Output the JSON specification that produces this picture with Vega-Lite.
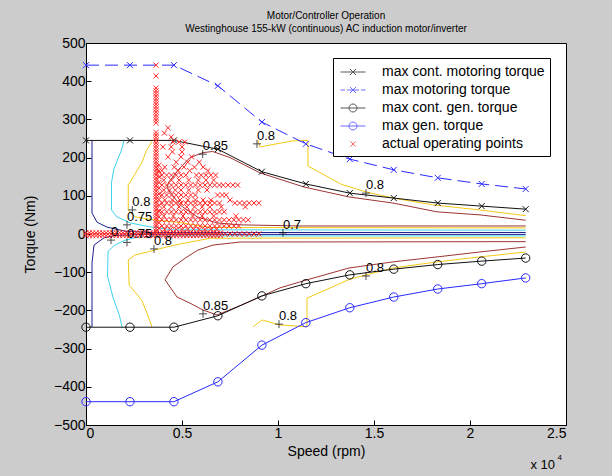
{
"$schema":"https://vega.github.io/schema/vega-lite/v6.json",
"autosize":{"type":"none"},
"padding":{"left":86,"top":43,"right":46,"bottom":51},
"width":480,"height":382,
"title":{"text":["Motor/Controller Operation","Westinghouse 155-kW (continuous) AC induction motor/inverter"],"fontSize":10,"fontWeight":"normal","font":"Liberation Sans","color":"black","lineHeight":13,"offset":2,"anchor":"middle"},
"datasets":{
"con":[
{"c":"n","g":"n1","x":312,"y":245},{"c":"n","g":"n1","x":312,"y":55},{"c":"n","g":"n1","x":573,"y":31},{"c":"n","g":"n1","x":1094,"y":18},{"c":"n","g":"n1","x":2083,"y":7},{"c":"n","g":"n1","x":3500,"y":4},{"c":"n","g":"n1","x":22900,"y":4},
{"c":"n","g":"n2","x":22900,"y":-1},{"c":"n","g":"n2","x":3000,"y":-1},{"c":"n","g":"n2","x":1500,"y":-4},{"c":"n","g":"n2","x":937,"y":-10},{"c":"n","g":"n2","x":417,"y":-29},{"c":"n","g":"n2","x":312,"y":-76},{"c":"n","g":"n2","x":312,"y":-244},
{"c":"c","g":"c1","x":1980,"y":245},{"c":"c","g":"c1","x":1850,"y":220},{"c":"c","g":"c1","x":1450,"y":170},{"c":"c","g":"c1","x":1330,"y":135},{"c":"c","g":"c1","x":1330,"y":63},{"c":"c","g":"c1","x":1600,"y":45},{"c":"c","g":"c1","x":2300,"y":29},{"c":"c","g":"c1","x":3300,"y":19},{"c":"c","g":"c1","x":4500,"y":11},{"c":"c","g":"c1","x":22900,"y":10},
{"c":"c","g":"c2","x":22900,"y":-5},{"c":"c","g":"c2","x":4000,"y":-5},{"c":"c","g":"c2","x":2600,"y":-9},{"c":"c","g":"c2","x":2000,"y":-17},{"c":"c","g":"c2","x":1500,"y":-29},{"c":"c","g":"c2","x":1150,"y":-45},{"c":"c","g":"c2","x":1120,"y":-110},{"c":"c","g":"c2","x":1400,"y":-165},{"c":"c","g":"c2","x":1750,"y":-215},{"c":"c","g":"c2","x":1880,"y":-244},
{"c":"y","g":"y1","x":3470,"y":245},{"c":"y","g":"y1","x":3160,"y":220},{"c":"y","g":"y1","x":2900,"y":186},{"c":"y","g":"y1","x":2200,"y":128},{"c":"y","g":"y1","x":2200,"y":63},{"c":"y","g":"y1","x":2550,"y":45},{"c":"y","g":"y1","x":3490,"y":37},{"c":"y","g":"y1","x":4900,"y":30},{"c":"y","g":"y1","x":6500,"y":17},{"c":"y","g":"y1","x":22900,"y":16},
{"c":"y","g":"y2","x":22900,"y":-10},{"c":"y","g":"y2","x":6500,"y":-11},{"c":"y","g":"y2","x":5000,"y":-25},{"c":"y","g":"y2","x":4200,"y":-34},{"c":"y","g":"y2","x":3200,"y":-47},{"c":"y","g":"y2","x":2550,"y":-55},{"c":"y","g":"y2","x":2200,"y":-68},{"c":"y","g":"y2","x":2250,"y":-134},{"c":"y","g":"y2","x":2900,"y":-173},{"c":"y","g":"y2","x":3180,"y":-207},{"c":"y","g":"y2","x":3440,"y":-244},
{"c":"y","g":"y3","x":8950,"y":245},{"c":"y","g":"y3","x":9060,"y":228},{"c":"y","g":"y3","x":10780,"y":244},{"c":"y","g":"y3","x":11560,"y":245},{"c":"y","g":"y3","x":11560,"y":178},{"c":"y","g":"y3","x":13300,"y":130},{"c":"y","g":"y3","x":14600,"y":110},{"c":"y","g":"y3","x":16000,"y":94},{"c":"y","g":"y3","x":18100,"y":76},{"c":"y","g":"y3","x":20500,"y":63},{"c":"y","g":"y3","x":22900,"y":48},
{"c":"y","g":"y4","x":8700,"y":-243},{"c":"y","g":"y4","x":9170,"y":-225},{"c":"y","g":"y4","x":10100,"y":-238},{"c":"y","g":"y4","x":11510,"y":-243},{"c":"y","g":"y4","x":11510,"y":-168},{"c":"y","g":"y4","x":13750,"y":-118},{"c":"y","g":"y4","x":15990,"y":-89},{"c":"y","g":"y4","x":18281,"y":-73},{"c":"y","g":"y4","x":20521,"y":-60},{"c":"y","g":"y4","x":22900,"y":-47},
{"c":"r","g":"r1","x":22900,"y":36},{"c":"r","g":"r1","x":20521,"y":50},{"c":"r","g":"r1","x":18281,"y":58},{"c":"r","g":"r1","x":15990,"y":81},{"c":"r","g":"r1","x":13698,"y":97},{"c":"r","g":"r1","x":11354,"y":123},{"c":"r","g":"r1","x":9062,"y":160},{"c":"r","g":"r1","x":7500,"y":200},{"c":"r","g":"r1","x":6600,"y":216},{"c":"r","g":"r1","x":6094,"y":213},{"c":"r","g":"r1","x":5417,"y":200},{"c":"r","g":"r1","x":4896,"y":173},{"c":"r","g":"r1","x":4300,"y":135},{"c":"r","g":"r1","x":4219,"y":120},{"c":"r","g":"r1","x":4896,"y":76},{"c":"r","g":"r1","x":5781,"y":45},{"c":"r","g":"r1","x":6823,"y":29},{"c":"r","g":"r1","x":8021,"y":24},{"c":"r","g":"r1","x":11146,"y":21},{"c":"r","g":"r1","x":22900,"y":21},
{"c":"r","g":"r2","x":22900,"y":-20},{"c":"r","g":"r2","x":8021,"y":-21},{"c":"r","g":"r2","x":6615,"y":-29},{"c":"r","g":"r2","x":5833,"y":-42},{"c":"r","g":"r2","x":5260,"y":-60},{"c":"r","g":"r2","x":4531,"y":-86},{"c":"r","g":"r2","x":4115,"y":-120},{"c":"r","g":"r2","x":4740,"y":-165},{"c":"r","g":"r2","x":5417,"y":-181},{"c":"r","g":"r2","x":6094,"y":-199},{"c":"r","g":"r2","x":6823,"y":-212},{"c":"r","g":"r2","x":7865,"y":-191},{"c":"r","g":"r2","x":9062,"y":-165},{"c":"r","g":"r2","x":10104,"y":-141},{"c":"r","g":"r2","x":11510,"y":-120},{"c":"r","g":"r2","x":13698,"y":-89},{"c":"r","g":"r2","x":15990,"y":-73},{"c":"r","g":"r2","x":18281,"y":-60},{"c":"r","g":"r2","x":20521,"y":-47},{"c":"r","g":"r2","x":22900,"y":-34}
],
"lab":[
{"t":"0.85","x":6078,"y":209},{"t":"0.8","x":8906,"y":236},{"t":"0.8","x":14583,"y":107},{"t":"0.7","x":10260,"y":3},{"t":"0.85","x":6094,"y":-209},{"t":"0.8","x":10052,"y":-236},{"t":"0.8","x":14583,"y":-110},{"t":"0.8","x":2413,"y":63},{"t":"0.75","x":2135,"y":24},{"t":"0","x":1302,"y":-16},{"t":"0.75","x":2135,"y":-22},{"t":"0.8","x":3541,"y":-39}
],
"ann":[{"t":"x 10","x":23150,"y":-605}],
"pts":[
{"s":"a","x":0,"y":245},{"s":"a","x":2290,"y":245},{"s":"a","x":4580,"y":245},{"s":"a","x":6870,"y":222},{"s":"a","x":9160,"y":163},{"s":"a","x":11450,"y":131},{"s":"a","x":13740,"y":107},{"s":"a","x":16030,"y":94},{"s":"a","x":18320,"y":81},{"s":"a","x":20610,"y":73},{"s":"a","x":22900,"y":65},
{"s":"b","x":0,"y":442},{"s":"b","x":2290,"y":442},{"s":"b","x":4580,"y":442},{"s":"b","x":6870,"y":388},{"s":"b","x":9160,"y":293},{"s":"b","x":11450,"y":236},{"s":"b","x":13740,"y":196},{"s":"b","x":16030,"y":168},{"s":"b","x":18320,"y":147},{"s":"b","x":20610,"y":131},{"s":"b","x":22900,"y":118},
{"s":"c","x":0,"y":-244},{"s":"c","x":2290,"y":-244},{"s":"c","x":4580,"y":-244},{"s":"c","x":6870,"y":-214},{"s":"c","x":9160,"y":-162},{"s":"c","x":11450,"y":-130},{"s":"c","x":13740,"y":-107},{"s":"c","x":16030,"y":-92},{"s":"c","x":18320,"y":-80},{"s":"c","x":20610,"y":-71},{"s":"c","x":22900,"y":-63},
{"s":"d","x":0,"y":-439},{"s":"d","x":2290,"y":-439},{"s":"d","x":4580,"y":-439},{"s":"d","x":6870,"y":-387},{"s":"d","x":9160,"y":-291},{"s":"d","x":11450,"y":-232},{"s":"d","x":13740,"y":-193},{"s":"d","x":16030,"y":-165},{"s":"d","x":18320,"y":-144},{"s":"d","x":20610,"y":-130},{"s":"d","x":22900,"y":-115},
{"s":"e","x":3650,"y":442},{"s":"e","x":3650,"y":414},{"s":"e","x":3650,"y":382},{"s":"e","x":3650,"y":375},{"s":"e","x":3650,"y":368},{"s":"e","x":3650,"y":361},{"s":"e","x":3650,"y":354},{"s":"e","x":3650,"y":347},{"s":"e","x":3650,"y":340},{"s":"e","x":3650,"y":333},{"s":"e","x":3650,"y":326},{"s":"e","x":3650,"y":319},{"s":"e","x":3650,"y":312},{"s":"e","x":3650,"y":305},{"s":"e","x":3650,"y":298},{"s":"e","x":3650,"y":291},
{"s":"e","x":3650,"y":266},{"s":"e","x":3650,"y":259},{"s":"e","x":3650,"y":252},{"s":"e","x":3650,"y":245},{"s":"e","x":3650,"y":238},{"s":"e","x":3650,"y":231},{"s":"e","x":3650,"y":224},{"s":"e","x":3650,"y":217},{"s":"e","x":3650,"y":210},{"s":"e","x":3650,"y":203},{"s":"e","x":3650,"y":196},{"s":"e","x":3650,"y":189},{"s":"e","x":3650,"y":182},{"s":"e","x":3650,"y":175},{"s":"e","x":3650,"y":168},{"s":"e","x":3650,"y":161},{"s":"e","x":3650,"y":154},{"s":"e","x":3650,"y":147},{"s":"e","x":3650,"y":140},{"s":"e","x":3650,"y":133},{"s":"e","x":3650,"y":126},{"s":"e","x":3650,"y":119},{"s":"e","x":3650,"y":112},{"s":"e","x":3650,"y":105},{"s":"e","x":3650,"y":98},{"s":"e","x":3650,"y":91},{"s":"e","x":3650,"y":84},{"s":"e","x":3650,"y":77},{"s":"e","x":3650,"y":70},{"s":"e","x":3650,"y":63},{"s":"e","x":3650,"y":56},{"s":"e","x":3650,"y":49},{"s":"e","x":3650,"y":42},{"s":"e","x":3650,"y":35},{"s":"e","x":3650,"y":28},{"s":"e","x":3650,"y":21},{"s":"e","x":3650,"y":14},{"s":"e","x":3650,"y":7},
{"s":"e","x":3800,"y":180},{"s":"e","x":3800,"y":165},{"s":"e","x":3800,"y":150},{"s":"e","x":3800,"y":135},{"s":"e","x":3800,"y":120},{"s":"e","x":3800,"y":105},{"s":"e","x":3800,"y":90},{"s":"e","x":3800,"y":75},{"s":"e","x":3800,"y":60},{"s":"e","x":3800,"y":45},{"s":"e","x":3800,"y":30},{"s":"e","x":3800,"y":15},
{"s":"e","x":4270,"y":278},{"s":"e","x":4080,"y":264},{"s":"e","x":4440,"y":254},{"s":"e","x":4540,"y":241},{"s":"e","x":4850,"y":241},{"s":"e","x":5150,"y":241},{"s":"e","x":4000,"y":228},{"s":"e","x":4440,"y":228},{"s":"e","x":5000,"y":228},{"s":"e","x":4500,"y":215},{"s":"e","x":5000,"y":215},{"s":"e","x":4270,"y":202},{"s":"e","x":4950,"y":202},{"s":"e","x":5500,"y":202},{"s":"e","x":4700,"y":188},{"s":"e","x":5300,"y":188},{"s":"e","x":5900,"y":188},
{"s":"e","x":4100,"y":175},{"s":"e","x":4600,"y":175},{"s":"e","x":5100,"y":175},{"s":"e","x":5650,"y":175},{"s":"e","x":6100,"y":175},{"s":"e","x":3950,"y":166},{"s":"e","x":4800,"y":166},{"s":"e","x":5400,"y":166},{"s":"e","x":6350,"y":166},
{"s":"e","x":3950,"y":154},{"s":"e","x":4200,"y":154},{"s":"e","x":4450,"y":154},{"s":"e","x":4700,"y":154},{"s":"e","x":4950,"y":154},{"s":"e","x":5200,"y":154},{"s":"e","x":5750,"y":154},{"s":"e","x":6000,"y":154},{"s":"e","x":6250,"y":154},{"s":"e","x":6500,"y":154},{"s":"e","x":6750,"y":154},
{"s":"e","x":4050,"y":141},{"s":"e","x":4450,"y":141},{"s":"e","x":4850,"y":141},{"s":"e","x":5350,"y":141},{"s":"e","x":5850,"y":141},{"s":"e","x":6250,"y":141},{"s":"e","x":6650,"y":141},
{"s":"e","x":3950,"y":128},{"s":"e","x":4200,"y":128},{"s":"e","x":4450,"y":128},{"s":"e","x":4700,"y":128},{"s":"e","x":4950,"y":128},{"s":"e","x":5200,"y":128},{"s":"e","x":5450,"y":128},{"s":"e","x":5700,"y":128},{"s":"e","x":5950,"y":128},{"s":"e","x":6200,"y":128},{"s":"e","x":6450,"y":128},{"s":"e","x":6700,"y":128},{"s":"e","x":6950,"y":128},{"s":"e","x":7150,"y":128},{"s":"e","x":7400,"y":128},{"s":"e","x":7650,"y":128},{"s":"e","x":7900,"y":128},
{"s":"e","x":4050,"y":115},{"s":"e","x":4350,"y":115},{"s":"e","x":4650,"y":115},{"s":"e","x":4950,"y":115},{"s":"e","x":5350,"y":115},{"s":"e","x":5850,"y":115},{"s":"e","x":6300,"y":115},
{"s":"e","x":3950,"y":102},{"s":"e","x":4200,"y":102},{"s":"e","x":4450,"y":102},{"s":"e","x":4700,"y":102},{"s":"e","x":4950,"y":102},{"s":"e","x":5200,"y":102},{"s":"e","x":5450,"y":102},{"s":"e","x":5700,"y":102},{"s":"e","x":6850,"y":102},{"s":"e","x":7100,"y":102},{"s":"e","x":7300,"y":102},
{"s":"e","x":4100,"y":89},{"s":"e","x":4500,"y":89},{"s":"e","x":4900,"y":89},{"s":"e","x":5300,"y":89},{"s":"e","x":5700,"y":89},{"s":"e","x":6100,"y":89},{"s":"e","x":6500,"y":89},{"s":"e","x":7500,"y":89},
{"s":"e","x":3950,"y":81},{"s":"e","x":4200,"y":81},{"s":"e","x":4450,"y":81},{"s":"e","x":4700,"y":81},{"s":"e","x":4950,"y":81},{"s":"e","x":5200,"y":81},{"s":"e","x":5450,"y":81},{"s":"e","x":5700,"y":81},{"s":"e","x":5950,"y":81},{"s":"e","x":6200,"y":81},{"s":"e","x":6450,"y":81},{"s":"e","x":6700,"y":81},{"s":"e","x":6950,"y":81},{"s":"e","x":7750,"y":81},{"s":"e","x":8000,"y":81},{"s":"e","x":8250,"y":81},{"s":"e","x":8500,"y":81},{"s":"e","x":8750,"y":81},{"s":"e","x":9000,"y":81},
{"s":"e","x":4050,"y":71},{"s":"e","x":4450,"y":71},{"s":"e","x":4850,"y":71},{"s":"e","x":5250,"y":71},{"s":"e","x":5650,"y":71},{"s":"e","x":6050,"y":71},{"s":"e","x":6450,"y":71},{"s":"e","x":7050,"y":71},{"s":"e","x":8300,"y":71},
{"s":"e","x":3950,"y":58},{"s":"e","x":4200,"y":58},{"s":"e","x":4450,"y":58},{"s":"e","x":4700,"y":58},{"s":"e","x":4950,"y":58},{"s":"e","x":5200,"y":58},{"s":"e","x":5450,"y":58},{"s":"e","x":5700,"y":58},{"s":"e","x":5950,"y":58},{"s":"e","x":6200,"y":58},{"s":"e","x":6450,"y":58},{"s":"e","x":6700,"y":58},{"s":"e","x":6950,"y":58},{"s":"e","x":7200,"y":58},
{"s":"e","x":4050,"y":47},{"s":"e","x":4550,"y":47},{"s":"e","x":5050,"y":47},{"s":"e","x":5550,"y":47},{"s":"e","x":6050,"y":47},{"s":"e","x":6650,"y":47},{"s":"e","x":7800,"y":47},
{"s":"e","x":3950,"y":37},{"s":"e","x":4200,"y":37},{"s":"e","x":4450,"y":37},{"s":"e","x":4700,"y":37},{"s":"e","x":4950,"y":37},{"s":"e","x":5200,"y":37},{"s":"e","x":5450,"y":37},{"s":"e","x":5700,"y":37},{"s":"e","x":5950,"y":37},{"s":"e","x":6200,"y":37},{"s":"e","x":6450,"y":37},{"s":"e","x":6700,"y":37},{"s":"e","x":6950,"y":37},{"s":"e","x":7200,"y":37},{"s":"e","x":7450,"y":37},{"s":"e","x":7700,"y":37},{"s":"e","x":7950,"y":37},{"s":"e","x":8200,"y":37},{"s":"e","x":8450,"y":37},
{"s":"e","x":3950,"y":21},{"s":"e","x":4200,"y":21},{"s":"e","x":4450,"y":21},{"s":"e","x":4700,"y":21},{"s":"e","x":4950,"y":21},{"s":"e","x":5200,"y":21},{"s":"e","x":5450,"y":21},{"s":"e","x":5700,"y":21},{"s":"e","x":5950,"y":21},{"s":"e","x":6200,"y":21},{"s":"e","x":6450,"y":21},{"s":"e","x":6700,"y":21},{"s":"e","x":6950,"y":21},{"s":"e","x":7200,"y":21},{"s":"e","x":7450,"y":21},{"s":"e","x":7700,"y":21},{"s":"e","x":7950,"y":21},
{"s":"e","x":4100,"y":12},{"s":"e","x":4400,"y":12},{"s":"e","x":4700,"y":12},{"s":"e","x":5000,"y":12},{"s":"e","x":5300,"y":12},{"s":"e","x":5600,"y":12},{"s":"e","x":5900,"y":12},{"s":"e","x":6200,"y":12},{"s":"e","x":6500,"y":12},{"s":"e","x":6800,"y":12},
{"s":"e","x":0,"y":3},{"s":"e","x":175,"y":3},{"s":"e","x":350,"y":3},{"s":"e","x":525,"y":3},{"s":"e","x":700,"y":3},{"s":"e","x":875,"y":3},{"s":"e","x":1050,"y":3},{"s":"e","x":1225,"y":3},{"s":"e","x":1400,"y":3},{"s":"e","x":1575,"y":3},{"s":"e","x":1750,"y":3},{"s":"e","x":1925,"y":3},{"s":"e","x":2100,"y":3},{"s":"e","x":2275,"y":3},{"s":"e","x":2450,"y":3},{"s":"e","x":2625,"y":3},{"s":"e","x":2800,"y":3},{"s":"e","x":2975,"y":3},{"s":"e","x":3150,"y":3},{"s":"e","x":3325,"y":3},{"s":"e","x":3500,"y":3},{"s":"e","x":3675,"y":3},{"s":"e","x":3850,"y":3},{"s":"e","x":4025,"y":3},{"s":"e","x":4200,"y":3},{"s":"e","x":4375,"y":3},{"s":"e","x":4550,"y":3},{"s":"e","x":4725,"y":3},{"s":"e","x":4900,"y":3},{"s":"e","x":5075,"y":3},{"s":"e","x":5250,"y":3},{"s":"e","x":5425,"y":3},{"s":"e","x":5600,"y":3},{"s":"e","x":5775,"y":3},{"s":"e","x":5950,"y":3},{"s":"e","x":6125,"y":3},{"s":"e","x":6300,"y":3},{"s":"e","x":6475,"y":3},{"s":"e","x":6650,"y":3},{"s":"e","x":6825,"y":3},{"s":"e","x":7000,"y":3},
{"s":"e","x":0,"y":-4},{"s":"e","x":175,"y":-4},{"s":"e","x":350,"y":-4},{"s":"e","x":525,"y":-4},{"s":"e","x":700,"y":-4},{"s":"e","x":875,"y":-4},{"s":"e","x":1050,"y":-4},{"s":"e","x":1225,"y":-4},{"s":"e","x":1400,"y":-4},{"s":"e","x":1575,"y":-4},{"s":"e","x":1750,"y":-4},{"s":"e","x":1925,"y":-4},{"s":"e","x":2100,"y":-4},{"s":"e","x":2275,"y":-4},{"s":"e","x":2450,"y":-4},{"s":"e","x":2625,"y":-4},{"s":"e","x":2800,"y":-4},{"s":"e","x":2975,"y":-4},{"s":"e","x":3150,"y":-4},{"s":"e","x":3325,"y":-4},{"s":"e","x":3500,"y":-4},{"s":"e","x":3675,"y":-4},{"s":"e","x":3850,"y":-4},{"s":"e","x":4025,"y":-4},{"s":"e","x":4200,"y":-4},{"s":"e","x":4375,"y":-4},{"s":"e","x":4550,"y":-4},{"s":"e","x":4725,"y":-4},{"s":"e","x":4900,"y":-4},{"s":"e","x":5075,"y":-4},{"s":"e","x":5250,"y":-4},{"s":"e","x":5425,"y":-4},{"s":"e","x":5600,"y":-4},{"s":"e","x":5775,"y":-4},{"s":"e","x":5950,"y":-4},{"s":"e","x":6125,"y":-4},{"s":"e","x":6300,"y":-4},{"s":"e","x":6475,"y":-4},{"s":"e","x":6650,"y":-4},{"s":"e","x":6825,"y":-4},{"s":"e","x":7000,"y":-4},
{"s":"e","x":7250,"y":0},{"s":"e","x":7500,"y":0},{"s":"e","x":7750,"y":0},{"s":"e","x":8000,"y":0},{"s":"e","x":8250,"y":0},{"s":"e","x":8500,"y":0},{"s":"e","x":8750,"y":0},{"s":"e","x":9000,"y":0}
]
},
"encoding":{
"x":{"field":"x","type":"quantitative","scale":{"domain":[0,25000],"nice":false,"zero":false},"axis":{"values":[0,5000,10000,15000,20000,25000],"labelExpr":"''+datum.value/10000","title":"Speed (rpm)","labelPadding":6,"titlePadding":4}},
"y":{"field":"y","type":"quantitative","scale":{"domain":[-500,500],"nice":false,"zero":false},"axis":{"values":[-500,-400,-300,-200,-100,0,100,200,300,400,500],"title":"Torque (Nm)","labelPadding":6,"titlePadding":16}}
},
"layer":[
{"data":{"name":"con"},"mark":{"type":"line","strokeWidth":1,"clip":true},
 "encoding":{"detail":{"field":"g"},"order":{"value":null},"stroke":{"field":"c","type":"nominal","scale":{"domain":["n","c","y","r"],"range":["#1c1c8e","#3cd2f0","#f5c814","#9c3434"]},"legend":null}}},
{"data":{"name":"pts"},"transform":[{"filter":"datum.s=='a'||datum.s=='c'"}],"mark":{"type":"line","strokeWidth":1,"color":"#111111"},"encoding":{"detail":{"field":"s"}}},
{"data":{"name":"pts"},"transform":[{"filter":"datum.s=='b'"}],"mark":{"type":"line","strokeWidth":1,"color":"#2a2aff","strokeDash":[13,6]}},
{"data":{"name":"pts"},"transform":[{"filter":"datum.s=='d'"}],"mark":{"type":"line","strokeWidth":1,"color":"#2a2aff"}},
{"data":{"name":"pts"},"transform":[{"filter":"datum.s=='a'"}],"mark":{"type":"point","shape":"M-1,-1L1,1M-1,1L1,-1","size":36,"filled":false,"strokeWidth":1,"color":"#111111","opacity":1}},
{"data":{"name":"pts"},"transform":[{"filter":"datum.s=='b'"}],"mark":{"type":"point","shape":"M-1,-1L1,1M-1,1L1,-1","size":36,"filled":false,"strokeWidth":1,"color":"#2a2aff","opacity":1}},
{"data":{"name":"pts"},"transform":[{"filter":"datum.s=='c'"}],"mark":{"type":"point","shape":"M-1.4,0A1.4,1.4,0,1,0,1.4,0A1.4,1.4,0,1,0,-1.4,0","size":36,"filled":false,"strokeWidth":1,"color":"#111111","opacity":1}},
{"data":{"name":"pts"},"transform":[{"filter":"datum.s=='d'"}],"mark":{"type":"point","shape":"M-1.4,0A1.4,1.4,0,1,0,1.4,0A1.4,1.4,0,1,0,-1.4,0","size":36,"filled":false,"strokeWidth":1,"color":"#2a2aff","opacity":1}},
{"data":{"name":"pts"},"transform":[{"filter":"datum.s=='e'"}],"mark":{"type":"point","shape":"M-0.85,-0.85L0.85,0.85M-0.85,0.85L0.85,-0.85","size":36,"filled":false,"strokeWidth":1,"color":"#ff2424","opacity":1}},
{"data":{"name":"pts"},"transform":[{"filter":"datum.s=='none'"}],"mark":{"type":"point","filled":false,"strokeWidth":1},
 "encoding":{
  "color":{"field":"s","type":"nominal","scale":{"domain":["a","b","c","d","e"],"range":["#111111","#2a2aff","#111111","#2a2aff","#ff2424"]},
   "legend":{"orient":"none","legendX":247,"legendY":15,"title":null,"strokeColor":"black","fillColor":"white","padding":5,"rowPadding":2,"symbolSize":289,"symbolOffset":6,"labelOffset":20,"labelFontSize":14,"labelLimit":400,"labelFont":"Liberation Sans","labelColor":"black","symbolStrokeWidth":1,"cornerRadius":0,
    "labelExpr":"datum.label=='a'?'max cont. motoring torque':datum.label=='b'?'max motoring torque':datum.label=='c'?'max cont. gen. torque':datum.label=='d'?'max gen. torque':'actual operating points'"}},
  "shape":{"field":"s","type":"nominal","scale":{"domain":["a","b","c","d","e"],"range":["M-1.47,0H1.47M-0.35,-0.35L0.35,0.35M-0.35,0.35L0.35,-0.35","M-1.47,0H-0.95M-0.7,0H0.7M0.95,0H1.47M-0.35,-0.35L0.35,0.35M-0.35,0.35L0.35,-0.35","M-1.47,0H1.47M-0.47,0A0.47,0.47,0,1,0,0.47,0A0.47,0.47,0,1,0,-0.47,0","M-1.47,0H1.47M-0.47,0A0.47,0.47,0,1,0,0.47,0A0.47,0.47,0,1,0,-0.47,0","M-0.3,-0.3L0.3,0.3M-0.3,0.3L0.3,-0.3"]},
   "legend":{"orient":"none","legendX":247,"legendY":15,"title":null,"strokeColor":"black","fillColor":"white","padding":5,"rowPadding":2,"symbolSize":289,"symbolOffset":6,"labelOffset":20,"labelFontSize":14,"labelLimit":400,"labelFont":"Liberation Sans","labelColor":"black","symbolStrokeWidth":1,"cornerRadius":0,
    "labelExpr":"datum.label=='a'?'max cont. motoring torque':datum.label=='b'?'max motoring torque':datum.label=='c'?'max cont. gen. torque':datum.label=='d'?'max gen. torque':'actual operating points'"}}
 }},
{"data":{"name":"lab"},"mark":{"type":"point","shape":"M-1,0H1M0,-1V1","size":64,"filled":false,"color":"black","strokeWidth":1}},
{"data":{"name":"lab"},"mark":{"type":"text","align":"left","baseline":"alphabetic","dy":-4,"fontSize":13,"font":"Liberation Sans","color":"black"},"encoding":{"text":{"field":"t"}}},
{"data":{"name":"ann"},"mark":{"type":"text","align":"left","baseline":"middle","fontSize":13,"font":"Liberation Sans","color":"black","clip":false},"encoding":{"text":{"field":"t"}}},
{"data":{"name":"ann"},"mark":{"type":"text","text":"4","align":"left","baseline":"middle","fontSize":8,"font":"Liberation Sans","color":"black","clip":false,"dx":27,"dy":-7},"encoding":{}}
],
"config":{"background":"#cccccc","view":{"stroke":"black","fill":"white","strokeWidth":1},"font":"Liberation Sans",
"axis":{"grid":false,"domainColor":"black","tickColor":"black","labelColor":"black","titleColor":"black","labelFontSize":14,"titleFontSize":14,"titleFontWeight":"normal","labelFont":"Liberation Sans","titleFont":"Liberation Sans","tickSize":-5}}
}
